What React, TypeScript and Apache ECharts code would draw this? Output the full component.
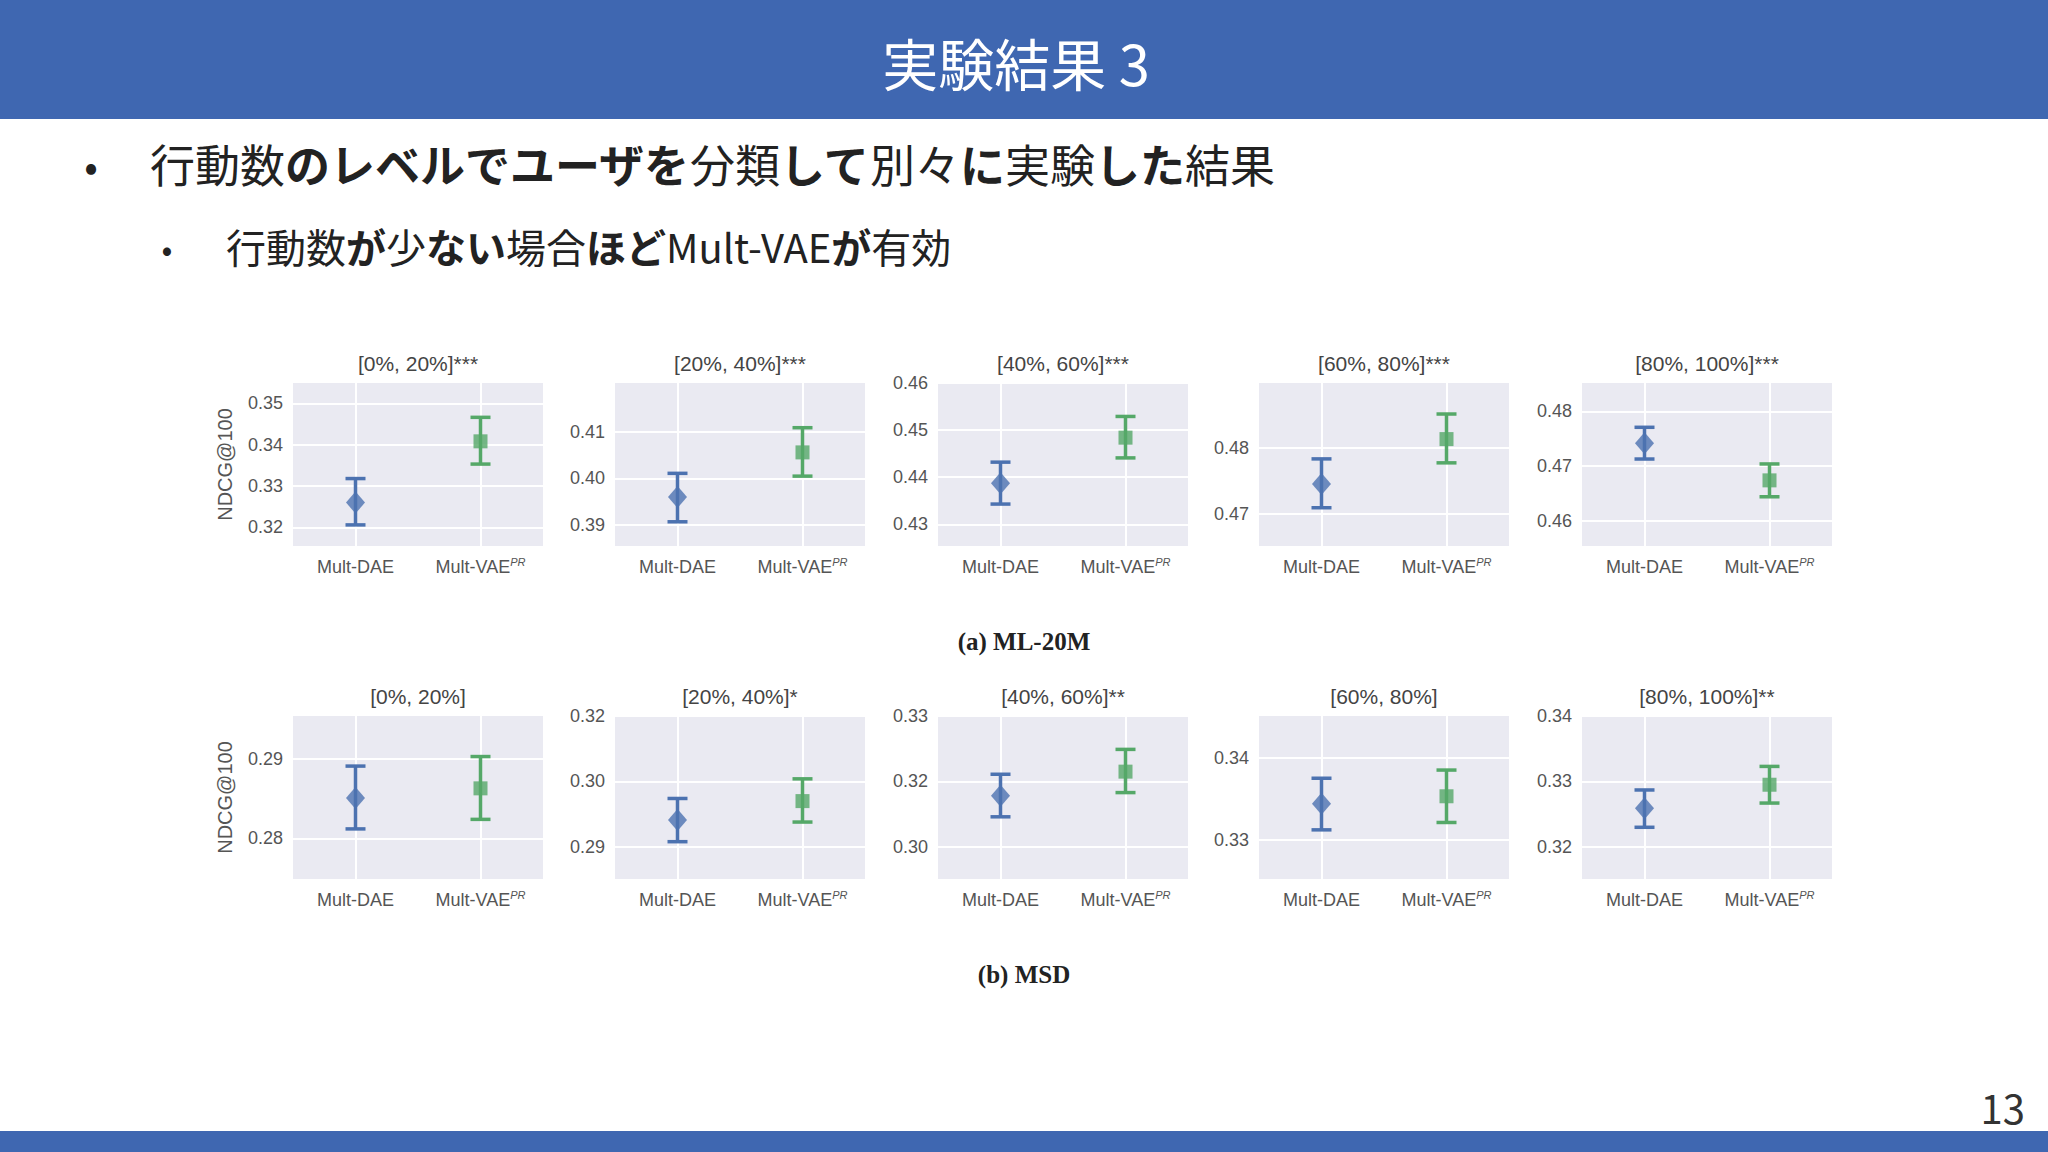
import React, { useEffect, useRef } from 'react';
import * as echarts from 'echarts';

// Five user-activity buckets per dataset
const ml20mTitles = ['[0%, 20%]***', '[20%, 40%]***', '[40%, 60%]***', '[60%, 80%]***', '[80%, 100%]***'];
const msdTitles = ['[0%, 20%]', '[20%, 40%]*', '[40%, 60%]**', '[60%, 80%]', '[80%, 100%]**'];
const methods = ['Mult-DAE', 'Mult-VAE'];

// [mean, low, high] per bucket
const ml20mDae = [
  [0.326, 0.3206, 0.3318],
  [0.396, 0.3907, 0.4011],
  [0.4387, 0.4343, 0.4432],
  [0.4745, 0.4709, 0.4783],
  [0.4742, 0.4713, 0.4771],
];
const ml20mVae = [
  [0.3408, 0.3353, 0.3466],
  [0.4056, 0.4005, 0.4109],
  [0.4484, 0.4441, 0.4529],
  [0.4813, 0.4777, 0.4851],
  [0.4674, 0.4644, 0.4704],
];
const msdDae = [
  [0.2851, 0.2812, 0.2891],
  [0.2941, 0.2908, 0.2974],
  [0.3178, 0.3146, 0.3211],
  [0.3344, 0.3312, 0.3375],
  [0.3259, 0.323, 0.3287],
];
const msdVae = [
  [0.2863, 0.2824, 0.2903],
  [0.297, 0.2938, 0.3004],
  [0.3215, 0.3183, 0.3249],
  [0.3353, 0.3321, 0.3385],
  [0.3295, 0.3267, 0.3323],
];

// y ranges [min, max]
const ml20mRange = [
  [0.3155, 0.3549],
  [0.3855, 0.4205],
  [0.4254, 0.46],
  [0.4651, 0.4898],
  [0.4554, 0.4852],
];
const msdRange = [
  [0.2749, 0.2954],
  [0.2851, 0.31],
  [0.3051, 0.33],
  [0.3252, 0.3451],
  [0.3151, 0.34],
];

// tick values and the labels printed at them
const ml20mTicks = [
  [0.32, 0.33, 0.34, 0.35],
  [0.39, 0.4, 0.41],
  [0.43, 0.44, 0.45, 0.46],
  [0.47, 0.48],
  [0.46, 0.47, 0.48],
];
const ml20mTickLabels = [
  ['0.32', '0.33', '0.34', '0.35'],
  ['0.39', '0.40', '0.41'],
  ['0.43', '0.44', '0.45', '0.46'],
  ['0.47', '0.48'],
  ['0.46', '0.47', '0.48'],
];
const msdTicks = [
  [0.28, 0.29],
  [0.29, 0.3, 0.31],
  [0.31, 0.32, 0.33],
  [0.33, 0.34],
  [0.32, 0.33, 0.34],
];
const msdTickLabels = [
  ['0.28', '0.29'],
  ['0.29', '0.30', '0.32'],
  ['0.30', '0.32', '0.33'],
  ['0.33', '0.34'],
  ['0.32', '0.33', '0.34'],
];

const BLUE = '#4C72B0';
const GREEN = '#55A868';
const HEADER = '#3F67B1';
const JP = '"Noto Sans CJK JP", "Noto Sans", sans-serif';
const SANS = '"Liberation Sans", Arial, sans-serif';

const PANEL_LEFT = [293, 615, 938, 1259, 1582];
const PANEL_W = 250;
const PANEL_H = 163;
const ROW_TOP = [383, 716];

function buildOption() {
  const grid: any[] = [];
  const xAxis: any[] = [];
  const yAxis: any[] = [];
  const series: any[] = [];
  const graphic: any[] = [];

  const rows = [
    { titles: ml20mTitles, dae: ml20mDae, vae: ml20mVae, range: ml20mRange, ticks: ml20mTicks, labels: ml20mTickLabels },
    { titles: msdTitles, dae: msdDae, vae: msdVae, range: msdRange, ticks: msdTicks, labels: msdTickLabels },
  ];

  rows.forEach((row, r) => {
    row.titles.forEach((title, c) => {
      const idx = grid.length;
      const ticks = row.ticks[c];
      const labels = row.labels[c];
      grid.push({
        left: PANEL_LEFT[c],
        top: ROW_TOP[r],
        width: PANEL_W,
        height: PANEL_H,
        show: true,
        backgroundColor: '#EAEAF2',
        borderWidth: 0,
        z: 0,
      });
      xAxis.push({
        type: 'category',
        gridIndex: idx,
        data: methods,
        z: 1,
        axisLine: { show: false },
        axisTick: {
          show: true,
          alignWithLabel: true,
          inside: true,
          length: PANEL_H,
          lineStyle: { color: '#ffffff', width: 2 },
        },
        splitLine: { show: false },
        axisLabel: {
          interval: 0,
          hideOverlap: false,
          margin: 10,
          color: '#555555',
          fontFamily: SANS,
          fontSize: 18,
          lineHeight: 22,
          formatter: (v: string) => (v === 'Mult-VAE' ? 'Mult-VAE{sup|PR}' : v),
          rich: {
            sup: { fontSize: 11, fontFamily: SANS, fontStyle: 'italic', color: '#555555', verticalAlign: 'top', lineHeight: 22, padding: [0, 0, 8, 0] },
          },
        },
      });
      yAxis.push({
        type: 'value',
        gridIndex: idx,
        min: row.range[c][0],
        max: row.range[c][1],
        z: 1,
        name: c === 0 ? 'NDCG@100' : '',
        nameLocation: 'middle',
        nameGap: 58,
        nameTextStyle: { fontFamily: SANS, fontSize: 20, color: '#555555' },
        axisLine: { show: false },
        axisTick: { show: false, customValues: ticks },
        splitLine: { show: true, lineStyle: { color: '#ffffff', width: 2 } },
        axisLabel: {
          customValues: ticks,
          margin: 10,
          color: '#555555',
          fontFamily: SANS,
          fontSize: 18,
          formatter: (v: number) => {
            const k = ticks.findIndex((t) => Math.abs(t - v) < 1e-6);
            return k >= 0 ? labels[k] : '';
          },
        },
      });

      const dae = row.dae[c];
      const vae = row.vae[c];
      series.push({
        type: 'custom',
        xAxisIndex: idx,
        yAxisIndex: idx,
        z: 2,
        data: [
          [0, dae[1], dae[2]],
          [1, vae[1], vae[2]],
        ],
        encode: { x: 0, y: [1, 2] },
        renderItem: (params: any, api: any) => {
          const cat = api.value(0);
          const lo = api.coord([cat, api.value(1)]);
          const hi = api.coord([cat, api.value(2)]);
          const color = cat === 0 ? BLUE : GREEN;
          const half = 10;
          const st = { stroke: color, lineWidth: 3.5 };
          return {
            type: 'group',
            children: [
              { type: 'line', shape: { x1: lo[0], y1: lo[1], x2: hi[0], y2: hi[1] }, style: st },
              { type: 'line', shape: { x1: lo[0] - half, y1: lo[1], x2: lo[0] + half, y2: lo[1] }, style: st },
              { type: 'line', shape: { x1: hi[0] - half, y1: hi[1], x2: hi[0] + half, y2: hi[1] }, style: st },
            ],
          };
        },
      });
      series.push({
        type: 'scatter',
        xAxisIndex: idx,
        yAxisIndex: idx,
        z: 3,
        data: [
          { value: [0, dae[0]], symbol: 'diamond', symbolSize: [19, 22], itemStyle: { color: BLUE } },
          { value: [1, vae[0]], symbol: 'rect', symbolSize: 14, itemStyle: { color: GREEN } },
        ],
      });

      graphic.push({
        type: 'text',
        x: PANEL_LEFT[c] + PANEL_W / 2,
        y: ROW_TOP[r] - 20,
        style: {
          text: title,
          fill: '#444444',
          fontFamily: SANS,
          fontSize: 21,
          align: 'center',
          verticalAlign: 'middle',
        },
      });
    });
  });

  // slide frame
  graphic.push(
    { type: 'rect', shape: { x: 0, y: 0, width: 2048, height: 119 }, style: { fill: HEADER }, z: -1 },
    { type: 'rect', shape: { x: 0, y: 1131, width: 2048, height: 21 }, style: { fill: HEADER }, z: -1 },
    {
      type: 'text',
      x: 1016,
      y: 61,
      style: { text: '実験結果 3', fill: '#ffffff', fontFamily: JP, fontSize: 56, align: 'center', verticalAlign: 'middle' },
    },
    {
      type: 'text',
      x: 91,
      y: 164,
      style: { text: '•', fill: '#222222', fontFamily: JP, fontSize: 40, align: 'center', verticalAlign: 'middle' },
    },
    {
      type: 'text',
      x: 150,
      y: 163,
      style: {
        text: '{n|行動数}{b|のレベルでユーザを}{n|分類}{b|して}{n|別々}{b|に}{n|実験}{b|した}{n|結果}',
        fill: '#222222',
        fontFamily: JP,
        fontSize: 45,
        align: 'left',
        verticalAlign: 'middle',
        rich: {
          n: { fontFamily: JP, fontSize: 45, fontWeight: 'normal', fill: '#222222' },
          b: { fontFamily: JP, fontSize: 45, fontWeight: 'bold', fill: '#222222' },
        },
      },
    },
    {
      type: 'text',
      x: 167,
      y: 247,
      style: { text: '•', fill: '#222222', fontFamily: JP, fontSize: 32, align: 'center', verticalAlign: 'middle' },
    },
    {
      type: 'text',
      x: 226,
      y: 246,
      style: {
        text: '{n|行動数}{b|が}{n|少}{b|ない}{n|場合}{b|ほど}{n|Mult-VAE}{b|が}{n|有効}',
        fill: '#222222',
        fontFamily: JP,
        fontSize: 40,
        align: 'left',
        verticalAlign: 'middle',
        rich: {
          n: { fontFamily: JP, fontSize: 40, fontWeight: 'normal', fill: '#222222' },
          b: { fontFamily: JP, fontSize: 40, fontWeight: 'bold', fill: '#222222' },
        },
      },
    },
    {
      type: 'text',
      x: 1024,
      y: 641,
      style: { text: '(a) ML-20M', fill: '#222222', fontFamily: '"Liberation Serif", serif', fontWeight: 'bold', fontSize: 25, align: 'center', verticalAlign: 'middle' },
    },
    {
      type: 'text',
      x: 1024,
      y: 974,
      style: { text: '(b) MSD', fill: '#222222', fontFamily: '"Liberation Serif", serif', fontWeight: 'bold', fontSize: 25, align: 'center', verticalAlign: 'middle' },
    },
    {
      type: 'text',
      x: 2025,
      y: 1107,
      style: { text: '13', fill: '#333333', fontFamily: JP, fontSize: 40, align: 'right', verticalAlign: 'middle' },
    }
  );

  return {
    animation: false,
    backgroundColor: '#ffffff',
    grid,
    xAxis,
    yAxis,
    series,
    graphic,
  };
}

export default function App() {
  const chartRef = useRef<HTMLDivElement>(null);

  useEffect(() => {
    if (!chartRef.current) return;
    const chart = echarts.init(chartRef.current, undefined, { renderer: 'svg' });
    chart.setOption(buildOption() as any);
    return () => {
      chart.dispose();
    };
  }, []);

  return (
    <div
      ref={chartRef}
      style={{ position: 'fixed', left: 0, top: 0, width: 2048, height: 1152, background: '#ffffff' }}
    />
  );
}
